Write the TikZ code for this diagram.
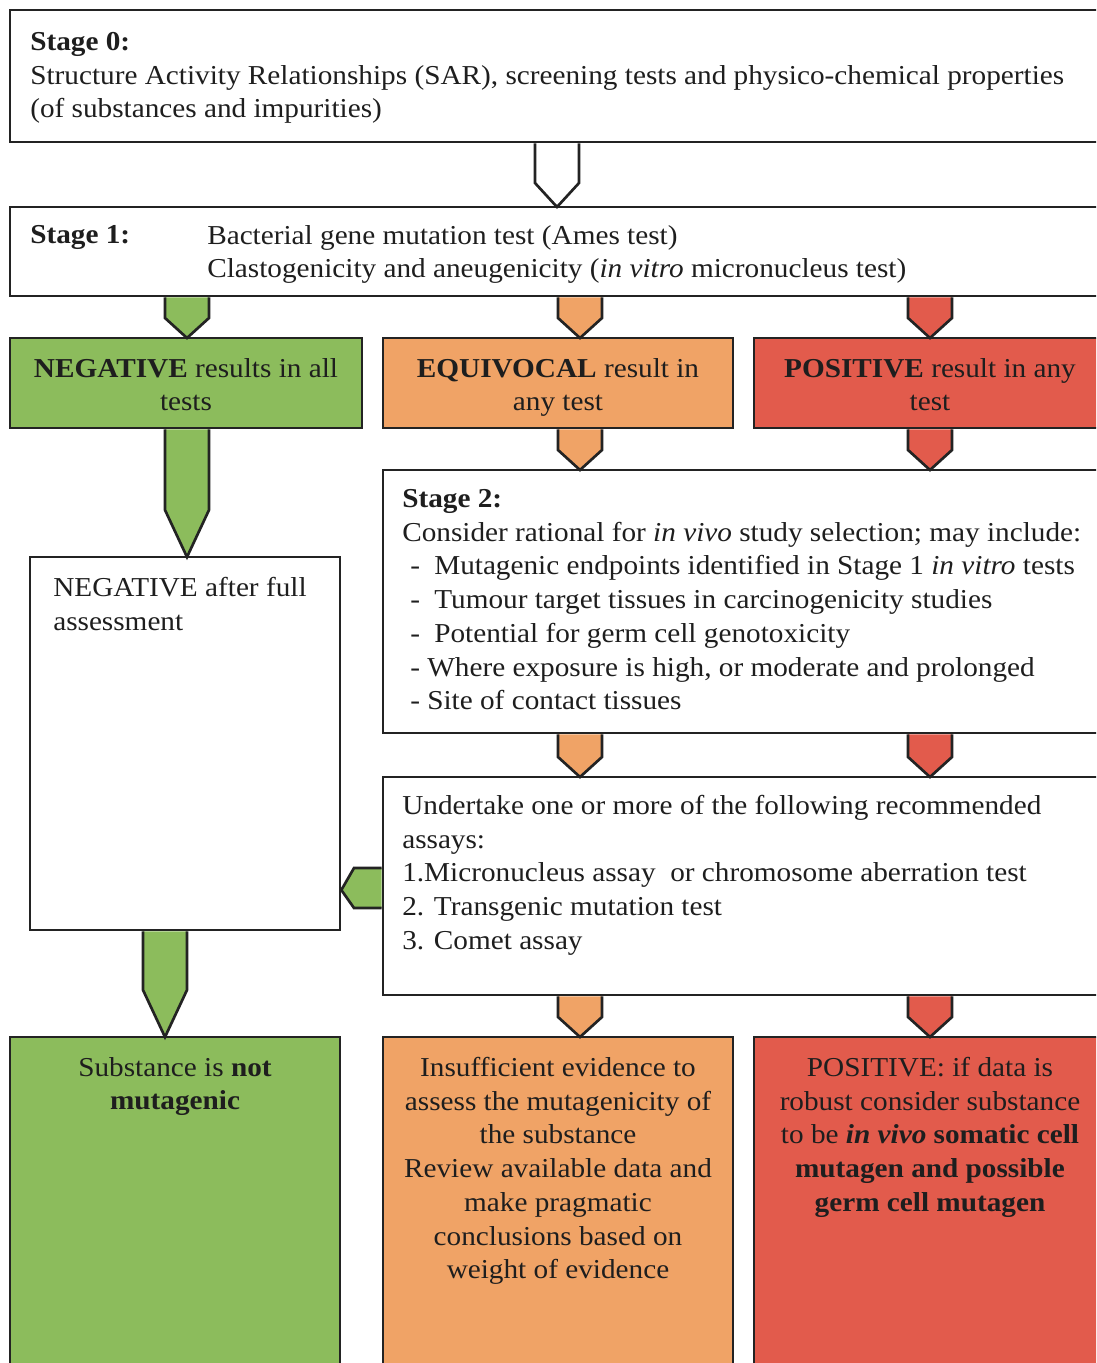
\documentclass[tikz,border=0pt]{standalone}
\usepackage{fontspec}
\setmainfont[FakeStretch=1.07]{Liberation Serif}
\usetikzlibrary{calc}
\definecolor{gfill}{RGB}{140,188,92}
\definecolor{ofill}{RGB}{240,163,102}
\definecolor{rfill}{RGB}{226,91,76}
\definecolor{ink}{RGB}{30,30,30}
\definecolor{edge}{RGB}{35,35,35}
\tikzset{
 box/.style={draw=edge, line width=2pt, anchor=north west, inner sep=0pt, outer sep=0pt, rectangle},
 arr/.style={draw=edge, line width=2pt, line join=miter},
 txt/.style={inner sep=0pt, anchor=north west, align=left, text=ink, font=\fontsize{20.5}{25.3}\selectfont},
 ctxt/.style={txt, anchor=north, align=center},
}
\newcommand\boxat[6]{\node[box,#6,minimum width={(#4-#2)*0.75pt},minimum height={(#5-#3)*0.75pt}] (#1) at (#2,#3) {};}
\newcommand\darr[5]{%
 \filldraw[arr,fill=#1] let \p1=(#3), \p2=(#4) in
 ({#2*0.75pt-16.5pt},{\y1-1pt}) -- ({#2*0.75pt-16.5pt},{\y2+#5*0.75pt}) -- ({#2*0.75pt},\y2) -- ({#2*0.75pt+16.5pt},{\y2+#5*0.75pt}) -- ({#2*0.75pt+16.5pt},{\y1-1pt});}
\begin{document}
\begin{tikzpicture}[x=0.75pt,y=-0.75pt]
\useasboundingbox (0,0) rectangle (1096,1363);
\fill[white] (0,0) rectangle (1096,1363);
\clip (0,0) rectangle (1096,1363);
% boxes
\boxat{s0}{10}{10}{1110}{142}{fill=white}
\boxat{s1}{10}{207}{1110}{296}{fill=white}
\boxat{neg}{10}{338}{362}{428}{fill=gfill}
\boxat{equ}{383}{338}{733}{428}{fill=ofill}
\boxat{pos}{754}{338}{1110}{428}{fill=rfill}
\boxat{s2}{383}{470}{1110}{733}{fill=white}
\boxat{nfa}{30}{557}{340}{930}{fill=white}
\boxat{und}{383}{777}{1110}{995}{fill=white}
\boxat{bneg}{10}{1037}{340}{1380}{fill=gfill}
\boxat{bequ}{383}{1037}{733}{1380}{fill=ofill}
\boxat{bpos}{754}{1037}{1110}{1380}{fill=rfill}
% arrows
\darr{white}{557}{s0.south}{s1.north}{24}
\darr{gfill}{187}{s1.south}{neg.north}{20}
\darr{ofill}{580}{s1.south}{equ.north}{20}
\darr{rfill}{930}{s1.south}{pos.north}{20}
\darr{gfill}{187}{neg.south}{nfa.north}{47}
\darr{ofill}{580}{equ.south}{s2.north}{20}
\darr{rfill}{930}{pos.south}{s2.north}{20}
\darr{ofill}{580}{s2.south}{und.north}{20}
\darr{rfill}{930}{s2.south}{und.north}{20}
\darr{gfill}{165}{nfa.south}{bneg.north}{47}
\darr{ofill}{580}{und.south}{bequ.north}{20}
\darr{rfill}{930}{und.south}{bpos.north}{20}
\filldraw[arr,fill=gfill] let \p1=(und.west), \p2=(nfa.east) in
 ({\x1-1pt},{\y1+13.5pt}) -- ({\x2+10.5pt},{\y1+13.5pt}) -- ({\x2+1pt},{\y1-3pt}) -- ({\x2+10.5pt},{\y1-16.5pt}) -- ({\x1-1pt},{\y1-16.5pt});
% texts
\node[txt] (t0) at (30,32) {\textbf{Stage 0:}\\Structure Activity Relationships (SAR), screening tests and physico-chemical properties\\(of substances and impurities)};
\node[txt] (t1a) at (30,225) {\textbf{Stage 1:}};
\node[txt] (t1b) at (207,225) {Bacterial gene mutation test (Ames test)\\Clastogenicity and aneugenicity (\textit{in vitro} micronucleus test)};
\node[ctxt] (tneg) at (186,358) {\textbf{NEGATIVE} results in all\\tests};
\node[ctxt] (tequ) at (558,358) {\textbf{EQUIVOCAL} result in\\any test};
\node[ctxt] (tpos) at (930,358) {\textbf{POSITIVE} result in any\\test};
\node[txt] (tnfa) at (53,577) {NEGATIVE after full\\assessment};
\node[txt] (ts2) at (402,489) {\textbf{Stage 2:}\\Consider rational for \textit{in vivo} study selection; may include:\\
\hspace*{6pt}\makebox[18pt][l]{-}Mutagenic endpoints identified in Stage 1 \textit{in vitro} tests\\
\hspace*{6pt}\makebox[18pt][l]{-}Tumour target tissues in carcinogenicity studies\\
\hspace*{6pt}\makebox[18pt][l]{-}Potential for germ cell genotoxicity\\
\hspace*{6pt}- Where exposure is high, or moderate and prolonged\\
\hspace*{6pt}- Site of contact tissues};
\node[txt] (tund) at (402,795) {Undertake one or more of the following recommended\\assays:\\1.Micronucleus assay\ \ or chromosome aberration test\\2. Transgenic mutation test\\3. Comet assay};
\node[ctxt] (tbneg) at (175,1057) {Substance is \textbf{not}\\\textbf{mutagenic}};
\node[ctxt] (tbequ) at (558,1057) {Insufficient evidence to\\assess the mutagenicity of\\the substance\\Review available data and\\make pragmatic\\conclusions based on\\weight of evidence};
\node[ctxt] (tbpos) at (930,1057) {POSITIVE: if data is\\robust consider substance\\to be \textbf{\textit{in vivo}} \textbf{somatic cell}\\\textbf{mutagen and possible}\\\textbf{germ cell mutagen}};
\end{tikzpicture}
\end{document}
